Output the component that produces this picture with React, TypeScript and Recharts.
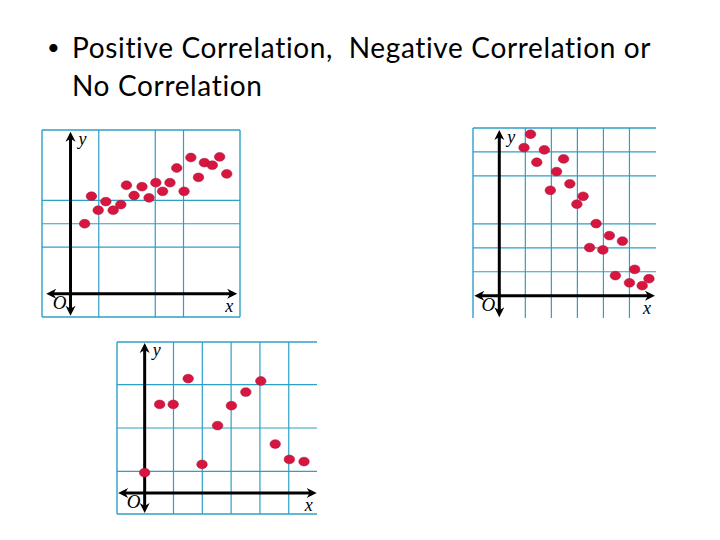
import React from 'react';
import { ScatterChart, Scatter, XAxis, YAxis, CartesianGrid, ReferenceLine, ReferenceDot } from 'recharts';

// ---------- text ----------
const TITLE_LINE_1 = 'Positive Correlation,  Negative Correlation or';
const TITLE_LINE_2 = 'No Correlation';
const AXIS_X_LABEL = 'x';
const AXIS_Y_LABEL = 'y';
const ORIGIN_LABEL = 'O';

// ---------- data ----------
const positiveX = [0.50, 0.74, 0.98, 1.25, 1.51, 1.78, 1.98, 2.25, 2.53, 2.78, 3.02, 3.26, 3.52, 3.76, 4.02, 4.26, 4.53, 4.74, 5.02, 5.28, 5.53];
const positiveY = [3.00, 4.18, 3.58, 3.95, 3.58, 3.82, 4.65, 4.21, 4.59, 4.11, 4.76, 4.39, 4.76, 5.39, 4.39, 5.84, 4.99, 5.62, 5.51, 5.87, 5.14];

const negativeX = [1.20, 0.95, 1.73, 1.44, 2.47, 2.20, 1.96, 2.71, 3.22, 2.98, 3.72, 4.23, 4.73, 3.47, 3.98, 5.20, 4.46, 5.00, 5.75, 5.49];
const negativeY = [6.74, 6.18, 6.09, 5.57, 5.71, 5.18, 4.40, 4.67, 4.15, 3.82, 3.01, 2.51, 2.28, 2.01, 1.91, 1.10, 0.84, 0.54, 0.71, 0.42];

const noneX = [0, 0.52, 0.99, 1.51, 1.99, 2.53, 3.01, 3.51, 4.03, 4.53, 5.02, 5.53];
const noneY = [0.94, 4.09, 4.09, 5.28, 1.32, 3.11, 4.03, 4.66, 5.17, 2.26, 1.55, 1.45];

// interior grid line values
const positiveGridX = [1, 3, 4];
const positiveGridY = [2, 3, 4];
const negativeGridX = [1, 2, 3, 4, 5];
const negativeGridY = [1, 2, 3, 5, 6];
const noneGridX = [1, 2, 3, 4, 5];
const noneGridY = [1, 2, 3, 5];

// frame edges (values)
const positiveFrameX = [-1.01, 6.0];
const positiveFrameY = [-1.0, 7.02];
const negativeFrameX = [-1.01];
const negativeFrameY = [7.0];
const noneFrameX = [-0.96];
const noneFrameY = [-0.97, 6.97];

const GRID = '#2e9fc6';
const DOT = '#d6163f';

const toPoints = (xs: number[], ys: number[]) => xs.map((x, i) => ({ x, y: ys[i] }));

function arrowPoly(tx: number, ty: number, dx: number, dy: number) {
  const L = 10, W = 5, notch = 3;
  const bx = tx - dx * L, by = ty - dy * L;
  const px = -dy, py = dx;
  const nx = tx - dx * (L - notch), ny = ty - dy * (L - notch);
  return `${tx},${ty} ${bx + px * W},${by + py * W} ${nx},${ny} ${bx - px * W},${by - py * W}`;
}

function renderAxis(p: any, kind: 'x' | 'y') {
  const { x1, y1, x2, y2 } = p;
  const len = Math.hypot(x2 - x1, y2 - y1) || 1;
  const dx = (x2 - x1) / len, dy = (y2 - y1) / len;
  const lx = kind === 'x' ? x2 - 8 : x2 + 12;
  const ly = kind === 'x' ? y2 + 12 : y2 + 7;
  return (
    <g>
      <line x1={x1 + dx * 6} y1={y1 + dy * 6} x2={x2 - dx * 6} y2={y2 - dy * 6} stroke="#000" strokeWidth={3} />
      <polygon points={arrowPoly(x1, y1, -dx, -dy)} fill="#000" />
      <polygon points={arrowPoly(x2, y2, dx, dy)} fill="#000" />
      <text x={lx} y={ly} textAnchor="middle" dominantBaseline="central"
        fontFamily="'Liberation Serif', serif" fontStyle="italic" fontSize={18} fill="#000">
        {kind === 'x' ? AXIS_X_LABEL : AXIS_Y_LABEL}
      </text>
    </g>
  );
}

type PanelProps = {
  points: { x: number; y: number }[];
  xDomain: [number, number];
  yDomain: [number, number];
  gridX: number[];
  gridY: number[];
  frameX: number[];
  frameY: number[];
  axisX: [number, number];
  axisY: [number, number];
  left: number; top: number; width: number; height: number;
};

function Panel(props: PanelProps) {
  const { points, xDomain, yDomain, gridX, gridY, frameX, frameY, axisX, axisY, left, top, width, height } = props;
  return (
    <div style={{ position: 'absolute', left, top }}>
      <ScatterChart width={width} height={height} margin={{ top: 1, right: 1, bottom: 1, left: 1 }}>
        <XAxis type="number" dataKey="x" domain={xDomain} hide allowDataOverflow />
        <YAxis type="number" dataKey="y" domain={yDomain} hide allowDataOverflow />
        <CartesianGrid stroke={GRID} strokeWidth={1.2} verticalValues={gridX} horizontalValues={gridY} />
        {frameX.map((v) => (
          <ReferenceLine key={`fx${v}`} x={v} stroke={GRID} strokeWidth={1.4} ifOverflow="extendDomain" />
        ))}
        {frameY.map((v) => (
          <ReferenceLine key={`fy${v}`} y={v} stroke={GRID} strokeWidth={1.4} ifOverflow="extendDomain" />
        ))}
        <ReferenceLine segment={[{ x: axisX[0], y: 0 }, { x: axisX[1], y: 0 }]} shape={(p: any) => renderAxis(p, 'x')} />
        <ReferenceLine segment={[{ x: 0, y: axisY[0] }, { x: 0, y: axisY[1] }]} shape={(p: any) => renderAxis(p, 'y')} />
        <ReferenceDot x={0} y={0} r={0} shape={(p: any) => (
          <text x={p.cx - 11} y={p.cy + 9} textAnchor="middle" dominantBaseline="central"
            fontFamily="'Liberation Serif', serif" fontStyle="italic" fontSize={19} fill="#000">{ORIGIN_LABEL}</text>
        )} />
        <Scatter data={points} isAnimationActive={false}
          shape={(p: any) => <ellipse cx={p.cx} cy={p.cy} rx={5.3} ry={4.4} fill={DOT} stroke="#a8123f" strokeWidth={0.5} />} />
      </ScatterChart>
    </div>
  );
}

export default function App() {
  const titleFont = "Lato, 'Open Sans', sans-serif";
  return (
    <div style={{ position: 'fixed', left: 0, top: 0, width: 720, height: 540, background: '#fff', overflow: 'hidden' }}>
      <div style={{ position: 'absolute', left: 40, top: 28, fontFamily: titleFont, fontSize: 28, lineHeight: '38px', color: '#000', whiteSpace: 'pre', letterSpacing: '0.65px', fontVariantLigatures: 'none' }}>
        <div><span style={{ display: 'inline-block', width: 32, paddingLeft: 7, boxSizing: 'border-box', fontSize: 22, letterSpacing: 0, verticalAlign: 'top' }}>•</span>{TITLE_LINE_1}</div>
        <div><span style={{ display: 'inline-block', width: 32 }}></span>{TITLE_LINE_2}</div>
      </div>
      <Panel points={toPoints(positiveX, positiveY)} xDomain={[-1.01, 6.0]} yDomain={[-1.0, 7.02]}
        gridX={positiveGridX} gridY={positiveGridY} frameX={positiveFrameX} frameY={positiveFrameY}
        axisX={[-0.86, 5.9]} axisY={[-0.95, 6.95]}
        left={41} top={129} width={200} height={189} />
      <Panel points={toPoints(negativeX, negativeY)} xDomain={[-1.01, 6.02]} yDomain={[-0.93, 7.0]}
        gridX={negativeGridX} gridY={negativeGridY} frameX={negativeFrameX} frameY={negativeFrameY}
        axisX={[-0.96, 5.98]} axisY={[-0.9, 6.92]}
        left={472} top={127} width={185} height={192} />
      <Panel points={toPoints(noneX, noneY)} xDomain={[-0.96, 5.98]} yDomain={[-0.97, 6.97]}
        gridX={noneGridX} gridY={noneGridY} frameX={noneFrameX} frameY={noneFrameY}
        axisX={[-0.92, 5.97]} axisY={[-0.92, 6.92]}
        left={116} top={341} width={202} height={174} />
    </div>
  );
}
